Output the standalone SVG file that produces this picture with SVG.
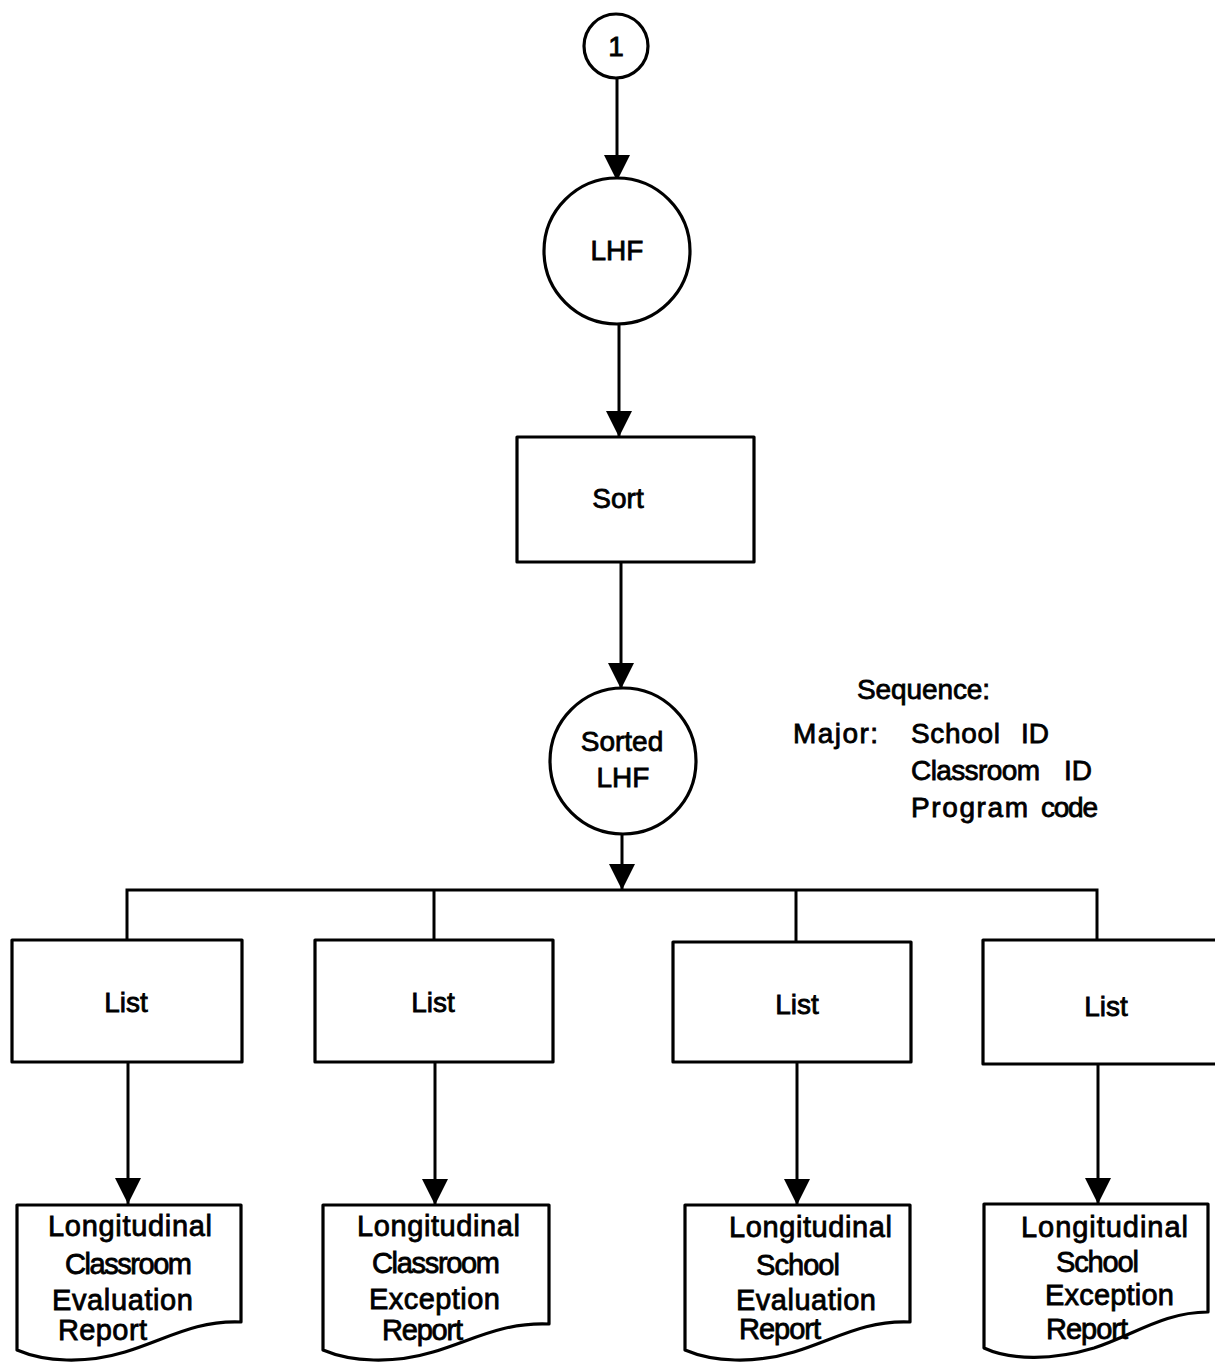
<svg xmlns="http://www.w3.org/2000/svg" width="1215" height="1362" viewBox="0 0 1215 1362">
  <defs>
    <marker id="arrow" markerWidth="28" markerHeight="26" refX="26" refY="13" orient="auto" markerUnits="userSpaceOnUse">
      <path d="M0,0 L26,13 L0,26 Z" fill="#000"/>
    </marker>
  </defs>
  <style>
    .shape { fill: #fff; stroke: #000; stroke-width: 3.2; stroke-linejoin: round; }
    .line { fill: none; stroke: #000; stroke-width: 3; }
    .arrowed { marker-end: url(#arrow); }
    text { font-family: "Liberation Sans", Arial, sans-serif; font-size: 28px; fill: #000; stroke: #000; stroke-width: 0.8; }
    .c { text-anchor: middle; }
    .doc text { font-size: 29px; }
  </style>
  <rect width="1215" height="1362" fill="#fff"/>

  <!-- Connectors -->
  <g id="connectors">
    <line class="line arrowed" x1="617" y1="78" x2="617" y2="181"/>
    <line class="line arrowed" x1="619" y1="324" x2="619" y2="437"/>
    <line class="line arrowed" x1="621" y1="562" x2="621" y2="689"/>
    <line class="line arrowed" x1="622" y1="833" x2="622" y2="890"/>
    <polyline class="line" points="127,940 127,890 1097,890 1097,940"/>
    <line class="line" x1="434" y1="890" x2="434" y2="940"/>
    <line class="line" x1="796" y1="890" x2="796" y2="942"/>
    <line class="line arrowed" x1="128" y1="1062" x2="128" y2="1204"/>
    <line class="line arrowed" x1="435" y1="1062" x2="435" y2="1205"/>
    <line class="line arrowed" x1="797" y1="1062" x2="797" y2="1205"/>
    <line class="line arrowed" x1="1098" y1="1064" x2="1098" y2="1204"/>
  </g>

  <!-- Off-page connector -->
  <g id="conn1">
    <circle class="shape" cx="616" cy="46" r="32"/>
    <text class="c" x="616" y="56">1</text>
  </g>

  <g id="lhf">
    <circle class="shape" cx="617" cy="251" r="73"/>
    <text class="c" x="617" y="260">LHF</text>
  </g>

  <g id="sort">
    <rect class="shape" x="517" y="437" width="237" height="125"/>
    <text class="c" x="618" y="508">Sort</text>
  </g>

  <g id="sorted-lhf">
    <circle class="shape" cx="623" cy="761" r="73"/>
    <text class="c" x="622" y="751">Sorted</text>
    <text class="c" x="623" y="787">LHF</text>
  </g>

  <g id="sequence-note">
    <text x="857" y="699" textLength="133" lengthAdjust="spacing">Sequence:</text>
    <text x="793" y="743" textLength="85" lengthAdjust="spacing">Major:</text>
    <text x="911" y="743" textLength="89" lengthAdjust="spacing">School</text>
    <text x="1021" y="743">ID</text>
    <text x="911" y="780" textLength="129" lengthAdjust="spacing">Classroom</text>
    <text x="1064" y="780">ID</text>
    <text x="911" y="817" textLength="117" lengthAdjust="spacing">Program</text>
    <text x="1041" y="817" textLength="57" lengthAdjust="spacing">code</text>
  </g>

  <!-- List steps -->
  <g id="list1">
    <rect class="shape" x="12" y="940" width="230" height="122"/>
    <text class="c" x="126" y="1012">List</text>
  </g>
  <g id="list2">
    <rect class="shape" x="315" y="940" width="238" height="122"/>
    <text class="c" x="433" y="1012">List</text>
  </g>
  <g id="list3">
    <rect class="shape" x="673" y="942" width="238" height="120"/>
    <text class="c" x="797" y="1014">List</text>
  </g>
  <g id="list4">
    <rect class="shape" x="983" y="940" width="240" height="124"/>
    <text class="c" x="1106" y="1016">List</text>
  </g>

  <!-- Report documents -->
  <g id="doc1" class="doc">
    <path class="shape" d="M17,1205 H241 V1322 C195,1320 165,1340 125,1352 C85,1364 45,1362 17,1350 Z"/>
    <text x="48" y="1236" textLength="164" lengthAdjust="spacing">Longitudinal</text>
    <text x="65" y="1274" textLength="127" lengthAdjust="spacing">Classroom</text>
    <text x="52" y="1310" textLength="141" lengthAdjust="spacing">Evaluation</text>
    <text x="58" y="1340" textLength="89" lengthAdjust="spacing">Report</text>
  </g>
  <g id="doc2" class="doc">
    <path class="shape" d="M323,1205 H549 V1324 C503,1322 473,1340 433,1352 C393,1364 351,1362 323,1350 Z"/>
    <text x="357" y="1236" textLength="163" lengthAdjust="spacing">Longitudinal</text>
    <text x="372" y="1273" textLength="128" lengthAdjust="spacing">Classroom</text>
    <text x="369" y="1309" textLength="131" lengthAdjust="spacing">Exception</text>
    <text x="382" y="1340" textLength="81" lengthAdjust="spacing">Report</text>
  </g>
  <g id="doc3" class="doc">
    <path class="shape" d="M685,1205 H910 V1322 C864,1320 834,1340 794,1352 C754,1364 713,1362 685,1350 Z"/>
    <text x="729" y="1237" textLength="163" lengthAdjust="spacing">Longitudinal</text>
    <text x="756" y="1275" textLength="84" lengthAdjust="spacing">School</text>
    <text x="736" y="1310" textLength="140" lengthAdjust="spacing">Evaluation</text>
    <text x="739" y="1339" textLength="82" lengthAdjust="spacing">Report</text>
  </g>
  <g id="doc4" class="doc">
    <path class="shape" d="M984,1204 H1208 V1312 C1164,1312 1134,1335 1094,1348 C1054,1360 1012,1361 984,1348 Z"/>
    <text x="1021" y="1237" textLength="167" lengthAdjust="spacing">Longitudinal</text>
    <text x="1056" y="1272" textLength="83" lengthAdjust="spacing">School</text>
    <text x="1045" y="1305" textLength="129" lengthAdjust="spacing">Exception</text>
    <text x="1046" y="1339" textLength="82" lengthAdjust="spacing">Report</text>
  </g>
</svg>
